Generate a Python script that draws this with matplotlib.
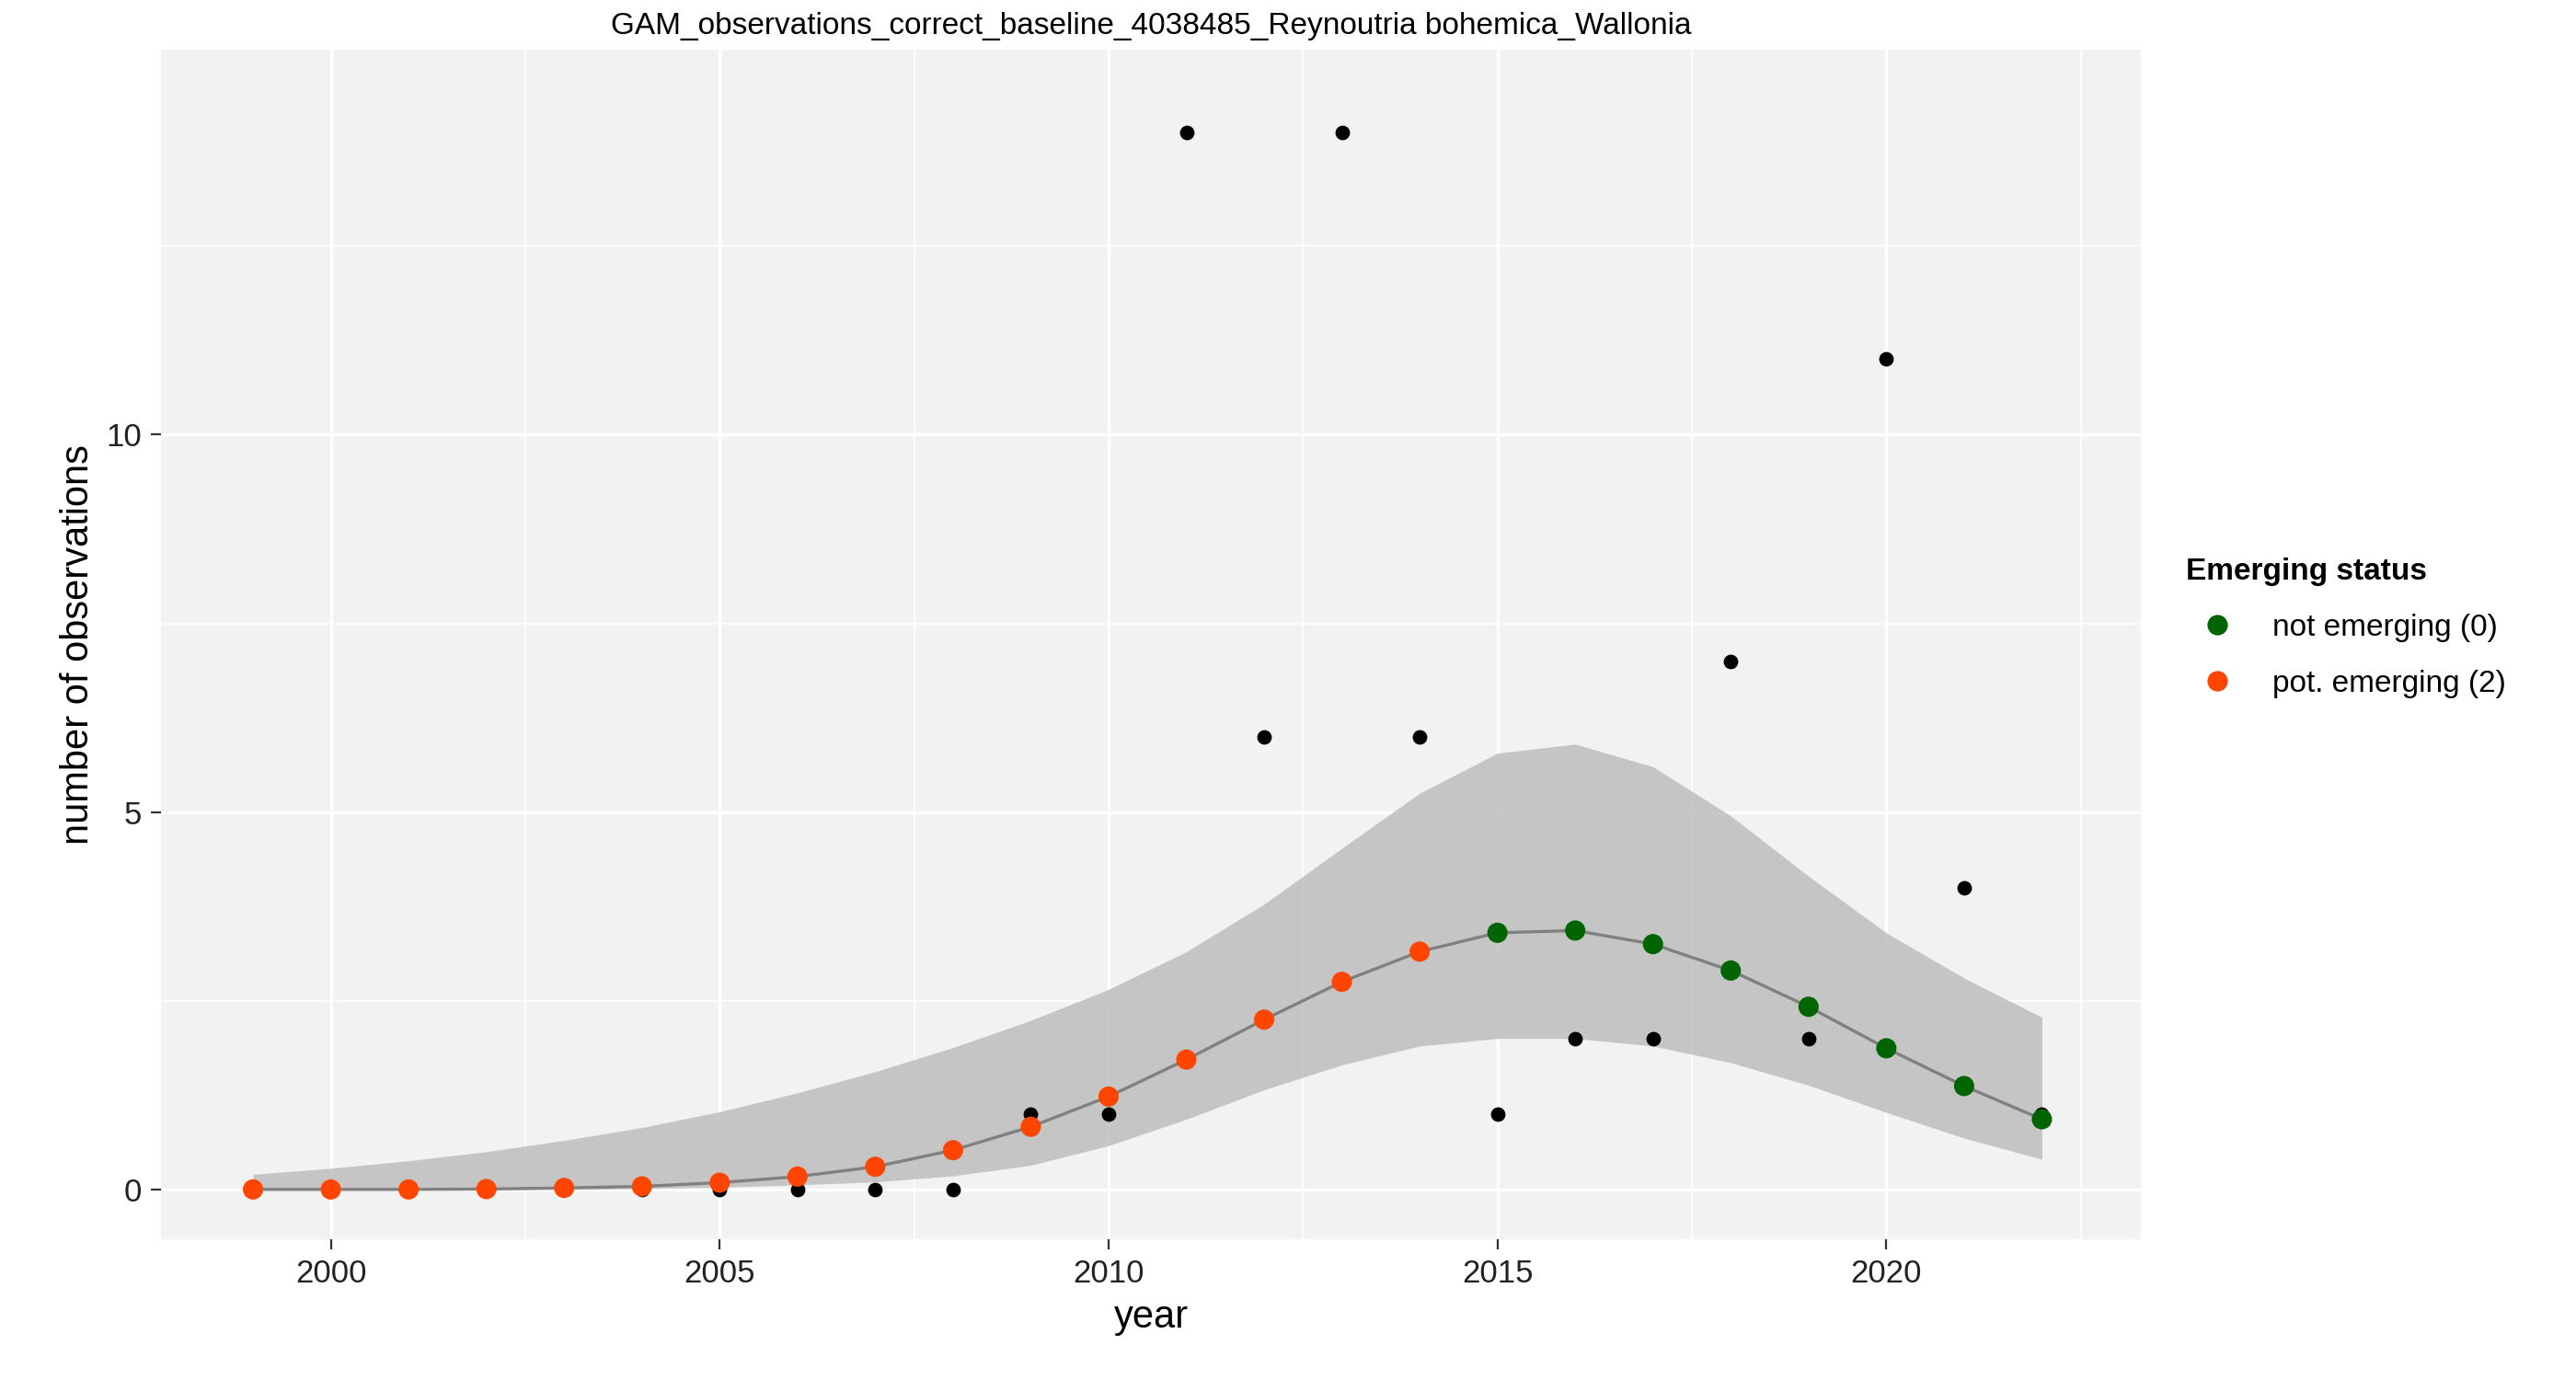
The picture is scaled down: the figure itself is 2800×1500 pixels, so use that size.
import matplotlib.pyplot as plt
import numpy as np
from matplotlib.lines import Line2D

plt.rcParams['font.family'] = ['Liberation Sans', 'DejaVu Sans']

years = np.arange(1999, 2023)
observed = [0, 0, 0, 0, 0, 0, 0, 0, 0, 0, 1, 1, 14, 6, 14, 6, 1, 2, 2, 7, 2, 11, 4, 1]
fit = [0, 0, 0, 0.005, 0.02, 0.04, 0.09, 0.17, 0.3, 0.52, 0.83, 1.23, 1.72, 2.25,
       2.75, 3.15, 3.4, 3.43, 3.25, 2.9, 2.42, 1.87, 1.37, 0.93]
upper = [0.2, 0.28, 0.38, 0.5, 0.65, 0.82, 1.03, 1.28, 1.56, 1.88, 2.24, 2.65, 3.15,
         3.78, 4.52, 5.25, 5.78, 5.9, 5.6, 4.95, 4.15, 3.4, 2.8, 2.28]
lower = [0, 0, 0, 0, 0, 0.01, 0.03, 0.06, 0.1, 0.18, 0.32, 0.58, 0.93, 1.32, 1.65,
         1.9, 2.0, 2.0, 1.9, 1.68, 1.38, 1.02, 0.68, 0.4]
status = [2] * 16 + [0] * 8
status_colors = {0: "#006400", 2: "#FF4500"}
status_labels = {0: "not emerging (0)", 2: "pot. emerging (2)"}

fig = plt.figure(figsize=(14, 7.5), dpi=200)
ax = fig.add_axes([0.0626, 0.102, 0.7684, 0.862])
ax.set_facecolor("#F2F2F2")
for s in ax.spines.values():
    s.set_visible(False)

ax.set_xlim(1997.82, 2023.27)
ax.set_ylim(-0.66, 15.1)
ax.set_xticks([2000, 2005, 2010, 2015, 2020])
ax.set_xticks([2002.5, 2007.5, 2012.5, 2017.5, 2022.5], minor=True)
ax.set_yticks([0, 5, 10])
ax.set_yticks([2.5, 7.5, 12.5], minor=True)
ax.grid(which="major", color="white", lw=1.2)
ax.grid(which="minor", color="white", lw=0.6)
ax.set_axisbelow(True)
ax.tick_params(which="minor", length=0)
ax.tick_params(which="major", color="#333333", length=4, labelsize=12.5, labelcolor="#222222")

ax.fill_between(years, lower, upper, color="#BEBEBE", alpha=0.85, lw=0)
ax.plot(years, fit, color="grey", lw=1.2)
ax.scatter(years, observed, color="black", s=22, zorder=3)
ax.scatter(years, fit, color=[status_colors[s] for s in status], s=48, zorder=4)

ax.set_xlabel("year", fontsize=15)
ax.set_ylabel("number of observations", fontsize=15)
ax.set_title("GAM_observations_correct_baseline_4038485_Reynoutria bohemica_Wallonia", fontsize=12)

handles = [Line2D([], [], marker="o", ls="", color=status_colors[k], markersize=7, label=status_labels[k])
           for k in (0, 2)]
leg = fig.legend(handles=handles, title="Emerging status", loc="center left",
                 bbox_to_anchor=(0.838, 0.545), frameon=False, fontsize=12,
                 title_fontproperties={"weight": "bold", "size": 12}, handletextpad=0.8,
                 labelspacing=0.9)
leg._legend_box.align = "left"

fig.savefig("out.png", dpi=200)
